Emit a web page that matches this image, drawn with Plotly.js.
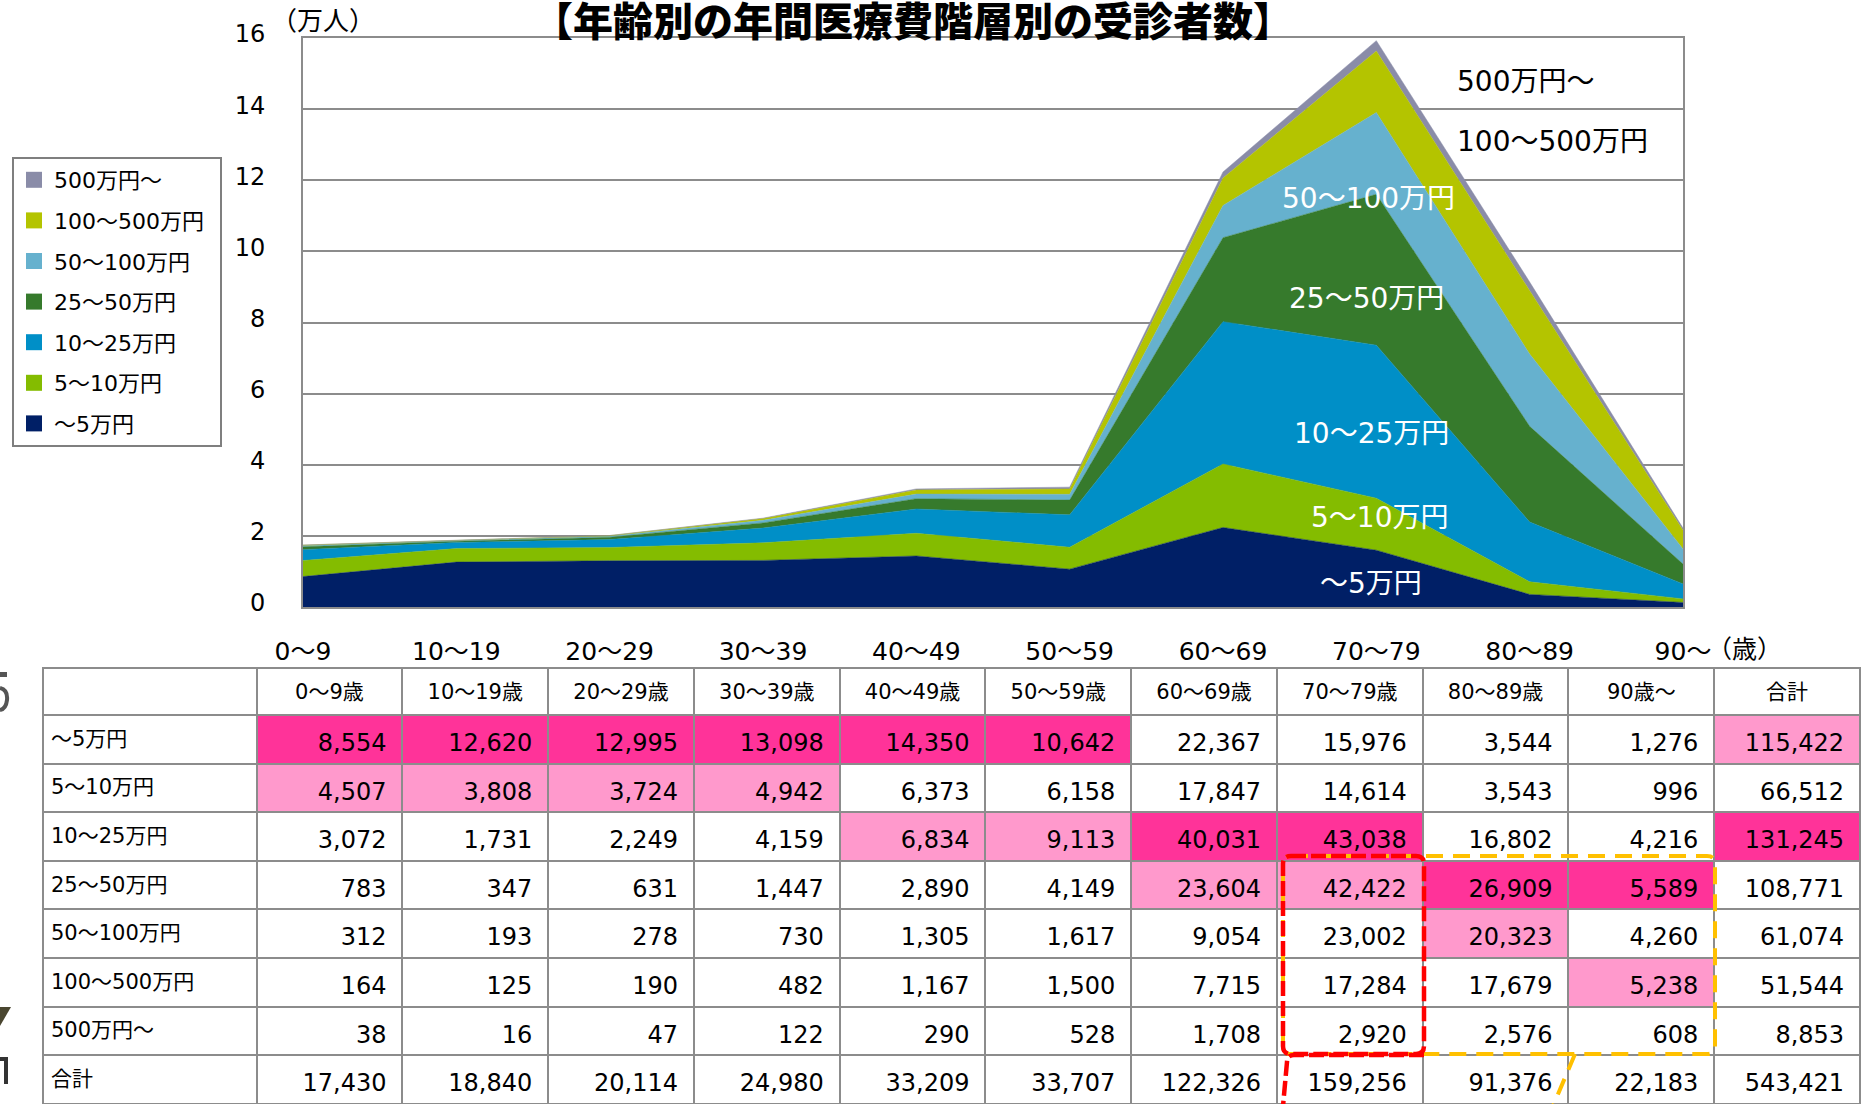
<!DOCTYPE html>
<html><head><meta charset="utf-8">
<script src="https://cdn.plot.ly/plotly-3.0.1.min.js"></script>
<style>
html,body{margin:0;padding:0;background:#fff;overflow:hidden}
#chart{width:1870px;height:1104px;}
.table text.cell-text{translate:0px 7px;}
.table text.cell-text[style*="font-size: 24px"]{translate:0px 10px;}
</style>
</head><body><div id="chart"></div>
<script>
// ---------- data ----------
const ageLabels  = ['0～9','10～19','20～29','30～39','40～49','50～59','60～69','70～79','80～89','90～'];
const ageHeaders = ['0～9歳','10～19歳','20～29歳','30～39歳','40～49歳','50～59歳','60～69歳','70～79歳','80～89歳','90歳～'];
const bandNames  = ['～5万円','5～10万円','10～25万円','25～50万円','50～100万円','100～500万円','500万円～'];
const under5     = [8554, 12620, 12995, 13098, 14350, 10642, 22367, 15976, 3544, 1276];
const from5to10  = [4507, 3808, 3724, 4942, 6373, 6158, 17847, 14614, 3543, 996];
const from10to25 = [3072, 1731, 2249, 4159, 6834, 9113, 40031, 43038, 16802, 4216];
const from25to50 = [783, 347, 631, 1447, 2890, 4149, 23604, 42422, 26909, 5589];
const from50to100  = [312, 193, 278, 730, 1305, 1617, 9054, 23002, 20323, 4260];
const from100to500 = [164, 125, 190, 482, 1167, 1500, 7715, 17284, 17679, 5238];
const over500    = [38, 16, 47, 122, 290, 528, 1708, 2920, 2576, 608];
const bandTotals = [115422, 66512, 131245, 108771, 61074, 51544, 8853];
const ageTotals  = [17430, 18840, 20114, 24980, 33209, 33707, 122326, 159256, 91376, 22183];
const grandTotal = 543421;
// highlight level per band row (0 none, 1 light pink, 2 hot pink), 10 ages + total
const highlight = [
  [2,2,2,2,2,2,0,0,0,0,1],
  [1,1,1,1,0,0,0,0,0,0,0],
  [0,0,0,0,1,1,2,2,0,0,2],
  [0,0,0,0,0,0,1,1,2,2,0],
  [0,0,0,0,0,0,0,0,1,0,0],
  [0,0,0,0,0,0,0,0,0,1,0],
  [0,0,0,0,0,0,0,0,0,0,0]
];

// ---------- style ----------
const W = 1870, H = 1104;
const fx = p => p / W;
const fy = p => 1 - p / H;
const FONT = 'DejaVu Sans, Noto Sans CJK JP, sans-serif';
const bandColors = ['#001F66','#84BC00','#008FC7','#367A2C','#66B1CE','#B4C400','#8A8CA8'];
const seriesList = [under5, from5to10, from10to25, from25to50, from50to100, from100to500, over500];
const SCALE = 10000; // 万人

const traces = [];
seriesList.forEach((vals, i) => {
  traces.push({
    type: 'scatter', mode: 'lines', x: ageLabels, y: vals.map(v => v / SCALE),
    stackgroup: 'one', fillcolor: bandColors[i],
    line: {color: bandColors[i], width: 0.5, shape: 'linear'},
    name: bandNames[i], showlegend: false, hoverinfo: 'skip',
    xaxis: 'x', yaxis: 'y'
  });
});
// legend entries (square swatches), top entry first
for (let i = seriesList.length - 1; i >= 0; i--) {
  traces.push({
    type: 'scatter', mode: 'markers', x: [null], y: [null],
    marker: {symbol: 'square', size: 16, color: bandColors[i]},
    name: bandNames[i] + '\u2002', legendgroup: 'g' + i, showlegend: true,
    xaxis: 'x', yaxis: 'y', hoverinfo: 'skip'
  });
}

// ---------- table ----------
const fmt = v => v.toLocaleString('en-US') + '\u2004';
const colValues = [bandNames.concat(['合計'])];
const colFill = [bandNames.concat(['合計']).map(() => '#ffffff')];
const pinkLevels = ['#ffffff', '#FF99CC', '#FF3399'];
for (let c = 0; c < 10; c++) {
  colValues.push(seriesList.map(s => fmt(s[c])).concat([fmt(ageTotals[c])]));
  colFill.push(highlight.map(r => pinkLevels[r[c]]).concat(['#ffffff']));
}
colValues.push(bandTotals.map(fmt).concat([fmt(grandTotal)]));
colFill.push(highlight.map(r => pinkLevels[r[10]]).concat(['#ffffff']));

traces.push({
  type: 'table',
  domain: {x: [fx(43), fx(1860)], y: [0, fy(668)]},
  columnwidth: [213.5].concat(Array(11).fill(145.7)),
  header: {
    values: [''].concat(ageHeaders, ['合計']),
    align: 'center', height: 47,
    fill: {color: '#ffffff'},
    line: {color: '#8c8c8c', width: 2},
    font: {family: FONT, size: 21, color: '#000'}
  },
  cells: {
    values: colValues,
    align: ['left'].concat(Array(11).fill('right')),
    height: 48.6,
    fill: {color: colFill},
    line: {color: '#8c8c8c', width: 2},
    font: {family: FONT, size: [21].concat(Array(11).fill(24)), color: '#000'}
  }
});

// ---------- annotations ----------
const annotations = [
  {text: '【年齢別の年間医療費階層別の受診者数】', x: fx(913), y: fy(19), xanchor: 'center', yanchor: 'middle',
   font: {family: 'Noto Sans CJK JP', size: 40, weight: 900, color: '#000'}},
  {text: '（万人）', x: fx(323), y: fy(21), xanchor: 'center', yanchor: 'middle',
   font: {family: FONT, size: 26, color: '#000'}},
  {text: '（歳）', x: fx(1744), y: fy(649), xanchor: 'center', yanchor: 'middle',
   font: {family: FONT, size: 25, color: '#000'}},
  {text: '500万円～', x: fx(1455), y: fy(81), xanchor: 'left', yanchor: 'middle',
   font: {family: FONT, size: 28, color: '#000'}},
  {text: '100～500万円', x: fx(1455), y: fy(141), xanchor: 'left', yanchor: 'middle',
   font: {family: FONT, size: 28, color: '#000'}},
  {text: '50～100万円', x: fx(1368), y: fy(198), xanchor: 'center', yanchor: 'middle',
   font: {family: FONT, size: 28, color: '#fff'}},
  {text: '25～50万円', x: fx(1366), y: fy(298), xanchor: 'center', yanchor: 'middle',
   font: {family: FONT, size: 28, color: '#fff'}},
  {text: '10～25万円', x: fx(1371), y: fy(433), xanchor: 'center', yanchor: 'middle',
   font: {family: FONT, size: 28, color: '#fff'}},
  {text: '5～10万円', x: fx(1379), y: fy(517), xanchor: 'center', yanchor: 'middle',
   font: {family: FONT, size: 28, color: '#fff'}},
  {text: '～5万円', x: fx(1371), y: fy(583), xanchor: 'center', yanchor: 'middle',
   font: {family: FONT, size: 28, color: '#fff'}}
].map(a => Object.assign({xref: 'paper', yref: 'paper', showarrow: false}, a));

// ---------- shapes (highlight outlines, edge fragments) ----------
function roundRect(x0, y0, x1, y1, r) {
  return `M${fx(x0 + r)},${fy(y0)} L${fx(x1 - r)},${fy(y0)} Q${fx(x1)},${fy(y0)} ${fx(x1)},${fy(y0 + r)} ` +
         `L${fx(x1)},${fy(y1 - r)} Q${fx(x1)},${fy(y1)} ${fx(x1 - r)},${fy(y1)} L${fx(x0 + r)},${fy(y1)} ` +
         `Q${fx(x0)},${fy(y1)} ${fx(x0)},${fy(y1 - r)} L${fx(x0)},${fy(y0 + r)} Q${fx(x0)},${fy(y0)} ${fx(x0 + r)},${fy(y0)} Z`;
}
const ORANGE = {color: '#FFC000', width: 4, dash: '17px,10px'};
const RED = {color: '#FF0000', width: 4.5, dash: '15px,5px'};
const shapes = [
  {type: 'path', path: roundRect(1283, 856, 1715, 1054, 8), line: ORANGE},
  {type: 'path', path: `M${fx(1575)},${fy(1054)} L${fx(1553)},${fy(1106)}`, line: ORANGE},
  {type: 'path', path: roundRect(1283, 856, 1424, 1054, 8), line: RED},
  {type: 'path', path: `M${fx(1424)},${fy(1055)} L${fx(1294)},${fy(1055)} Q${fx(1287)},${fy(1055)} ${fx(1287)},${fy(1062)} L${fx(1283)},${fy(1106)}`, line: RED},
  {type: 'path', path: `M${fx(0)},${fy(1007)} L${fx(11)},${fy(1007)} L${fx(0)},${fy(1026)} Z`, fillcolor: '#4a4630', line: {width: 0}},
  {type: 'path', path: `M${fx(0)},${fy(672)} L${fx(7)},${fy(672)} L${fx(7)},${fy(677)} L${fx(0)},${fy(677)} Z`, fillcolor: '#555', line: {width: 0}},
  {type: 'path', path: `M${fx(0)},${fy(688)} Q${fx(8)},${fy(690)} ${fx(7)},${fy(700)} Q${fx(6)},${fy(709)} ${fx(0)},${fy(710)}`, line: {color: '#555', width: 4}},
  {type: 'path', path: `M${fx(0)},${fy(1057)} L${fx(8)},${fy(1057)} L${fx(8)},${fy(1084)} L${fx(4)},${fy(1084)} L${fx(4)},${fy(1061)} L${fx(0)},${fy(1061)} Z`, fillcolor: '#333', line: {width: 0}}
].map(s => Object.assign({xref: 'paper', yref: 'paper', layer: 'above'}, s));

const layout = {
  width: W, height: H,
  margin: {l: 0, r: 0, t: 0, b: 0, pad: 0},
  paper_bgcolor: '#ffffff', plot_bgcolor: '#ffffff',
  font: {family: FONT, color: '#000'},
  showlegend: true,
  xaxis: {
    type: 'category', domain: [fx(303), fx(1683)], range: [0, 9],
    showgrid: false, zeroline: false,
    showline: true, mirror: true, linecolor: '#8c8c8c', linewidth: 2,
    ticks: 'outside', ticklen: 21, tickcolor: 'rgba(0,0,0,0)',
    tickfont: {family: FONT, size: 25, color: '#000'}, fixedrange: true
  },
  yaxis: {
    domain: [fy(607), fy(38)], range: [0, 16], dtick: 2, tick0: 0,
    showgrid: true, gridcolor: '#8c8c8c', gridwidth: 2, zeroline: false,
    showline: true, mirror: true, linecolor: '#8c8c8c', linewidth: 2,
    ticks: 'outside', ticklen: 31, tickcolor: 'rgba(0,0,0,0)', ticklabelshift: -4,
    tickfont: {family: FONT, size: 24, color: '#000'}, fixedrange: true
  },
  legend: {
    x: fx(12), y: fy(157), xanchor: 'left', yanchor: 'top',
    bgcolor: '#ffffff', bordercolor: '#7f7f7f', borderwidth: 2,
    font: {family: FONT, size: 22, color: '#000'},
    traceorder: 'grouped', tracegroupgap: 9,
    itemclick: false, itemdoubleclick: false
  },
  annotations: annotations,
  shapes: shapes
};

Plotly.newPlot('chart', traces, layout, {displayModeBar: false, staticPlot: true}).then(gd => {
  const paper = gd.querySelector('.main-svg');
  const above = paper && paper.querySelector(':scope > .layer-above');
  if (above) paper.appendChild(above);
});
</script>
</body></html>
